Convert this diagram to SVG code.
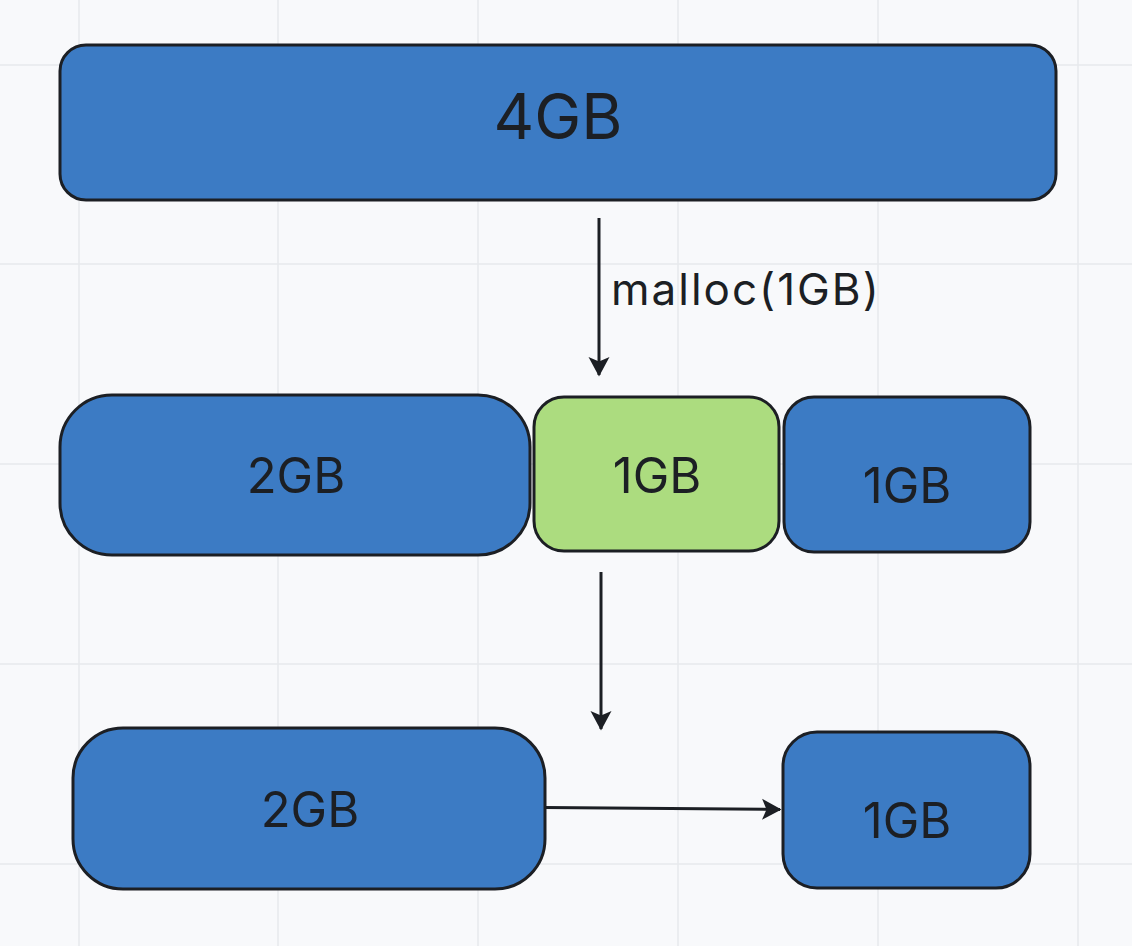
<svg xmlns="http://www.w3.org/2000/svg" width="1132" height="946" viewBox="0 0 1132 946">
  <style>
    .grid line { stroke: #e7e8ec; stroke-width: 1.5; }
    .blue { fill: #3c7bc4; stroke: #1c1f24; stroke-width: 3; }
    .green { fill: #acdc7f; stroke: #1c1f24; stroke-width: 3; }
    .lbl { font-family: Inter, "Liberation Sans", sans-serif; fill: #1c1f24; text-anchor: middle; font-size: 49px; }
    .edge { stroke: #1c1f24; stroke-width: 3; fill: none; marker-end: url(#arrow); }
  </style>
  <defs>
    <marker id="arrow" markerWidth="8" markerHeight="8" refX="6" refY="4" orient="auto" markerUnits="strokeWidth">
      <path d="M0,0.5 L6.5,4 L0,7.5 L1.5,4 Z" fill="#1c1f24"/>
    </marker>
  </defs>

  <rect width="1132" height="946" fill="#f8f9fb"/>
  <g class="grid">
    <line x1="79" y1="0" x2="79" y2="946"/>
    <line x1="278" y1="0" x2="278" y2="946"/>
    <line x1="478" y1="0" x2="478" y2="946"/>
    <line x1="678" y1="0" x2="678" y2="946"/>
    <line x1="878" y1="0" x2="878" y2="946"/>
    <line x1="1078" y1="0" x2="1078" y2="946"/>
    <line x1="0" y1="65" x2="1132" y2="65"/>
    <line x1="0" y1="264" x2="1132" y2="264"/>
    <line x1="0" y1="464" x2="1132" y2="464"/>
    <line x1="0" y1="664" x2="1132" y2="664"/>
    <line x1="0" y1="864" x2="1132" y2="864"/>
  </g>

  <g id="connectors">
    <line class="edge" x1="599" y1="218" x2="599" y2="375"/>
    <text x="611" y="305" font-family="Inter, 'Liberation Sans', sans-serif" font-size="44" letter-spacing="2" fill="#1c1f24">malloc(1GB)</text>
    <line class="edge" x1="601" y1="572" x2="601" y2="729"/>
    <line class="edge" x1="545" y1="807.5" x2="780" y2="809.5"/>
  </g>

  <g id="total">
    <rect class="blue" x="60" y="45" width="996" height="155" rx="26"/>
    <text class="lbl" x="558" y="139" style="font-size:63px">4GB</text>
  </g>

  <g id="split-2gb">
    <rect class="blue" x="60" y="395" width="470" height="160" rx="52"/>
    <text class="lbl" x="296" y="493">2GB</text>
  </g>
  <g id="split-1gb-alloc">
    <rect class="green" x="534" y="397" width="245" height="154" rx="30"/>
    <text class="lbl" x="657" y="493">1GB</text>
  </g>
  <g id="split-1gb-free">
    <rect class="blue" x="784" y="397" width="246" height="155" rx="30"/>
    <text class="lbl" x="907" y="503">1GB</text>
  </g>

  <g id="free-2gb">
    <rect class="blue" x="73" y="728" width="472" height="161" rx="50"/>
    <text class="lbl" x="310" y="827">2GB</text>
  </g>
  <g id="free-1gb">
    <rect class="blue" x="783" y="732" width="247" height="156" rx="34"/>
    <text class="lbl" x="907" y="838">1GB</text>
  </g>
</svg>
